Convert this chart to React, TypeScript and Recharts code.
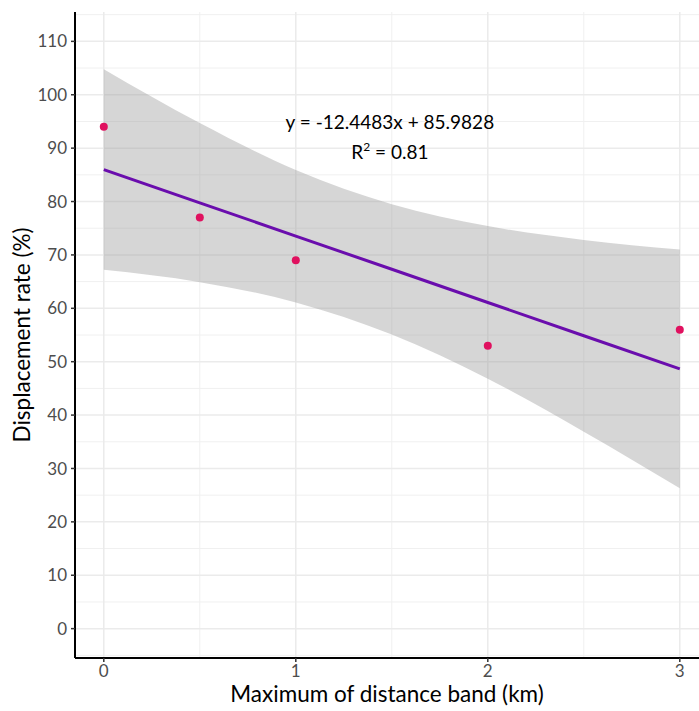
import React from "react";
import {
  Area,
  CartesianGrid,
  ComposedChart,
  Label,
  Line,
  ReferenceDot,
  Scatter,
  XAxis,
  YAxis,
} from "recharts";

// distance band maximum (km) and observed displacement rate (%)
const bandMax = [0, 0.5, 1, 2, 3];
const displacement = [94, 77, 69, 53, 56];

const fitX = [0, 0.5, 1, 1.5, 2, 2.5, 3];
const fitY = [85.98, 79.76, 73.53, 67.31, 61.09, 54.86, 48.64];
const ciLow = [67.2, 64.9, 61.1, 55.1, 46.8, 36.9, 26.3];
const ciHigh = [104.8, 94.7, 85.9, 79.5, 75.4, 72.8, 71.0];

const xTicks = [0, 1, 2, 3];
const yTicks = [0, 10, 20, 30, 40, 50, 60, 70, 80, 90, 100, 110];
const xMinor = [0.5, 1.5, 2.5];
const yMinor = [-5, 5, 15, 25, 35, 45, 55, 65, 75, 85, 95, 105, 115];

const ribbon = fitX.map((x, i) => ({ x, band: [ciLow[i], ciHigh[i]], fit: fitY[i] }));
const points = bandMax.map((x, i) => ({ x, y: displacement[i] }));

const FONT = "Lato, 'Open Sans', sans-serif";

const Equation = ({ viewBox }: any) => {
  const cx = viewBox.x + viewBox.width / 2;
  const cy = viewBox.y + viewBox.height / 2;
  return (
    <g fontFamily={FONT} fontSize={19} fill="#000" textAnchor="middle">
      <text x={cx} y={cy}>y = -12.4483x + 85.9828</text>
      <text x={cx} y={cy + 30}>
        R<tspan dy={-8} fontSize={12}>2</tspan>
        <tspan dy={8}> = 0.81</tspan>
      </text>
    </g>
  );
};

const App = () => {
  return (
    <div style={{ position: "absolute", left: 0, top: 0, background: "#fff" }}>
      <ComposedChart
        width={699}
        height={711}
        data={ribbon}
        margin={{ top: 12, right: 0, bottom: 0, left: 0 }}
      >
        <CartesianGrid
          stroke="#f0f0f0"
          strokeWidth={1}
          horizontalValues={yMinor}
          verticalValues={xMinor}
        />
        <CartesianGrid
          stroke="#ebebeb"
          strokeWidth={1.5}
          horizontalValues={yTicks}
          verticalValues={xTicks}
        />
        <XAxis
          type="number"
          dataKey="x"
          domain={[-0.15, 3.1]}
          ticks={xTicks}
          allowDataOverflow
          height={53}
          axisLine={{ stroke: "#000", strokeWidth: 2 }}
          tickLine={{ stroke: "#333", strokeWidth: 1.5 }}
          tickSize={4}
          tickMargin={3}
          tick={{ fill: "#4d4d4d", fontSize: 17, fontFamily: FONT }}
        >
          <Label
            value="Maximum of distance band (km)"
            position="insideBottom"
            offset={9}
            style={{ fill: "#000", fontSize: 22.5, fontFamily: FONT }}
          />
        </XAxis>
        <YAxis
          type="number"
          domain={[-5.5, 115.5]}
          ticks={yTicks}
          allowDataOverflow
          width={75}
          axisLine={{ stroke: "#000", strokeWidth: 2 }}
          tickLine={{ stroke: "#333", strokeWidth: 1.5 }}
          tickSize={4}
          tickMargin={4}
          tick={{ fill: "#4d4d4d", fontSize: 17, fontFamily: FONT }}
        >
          <Label
            value="Displacement rate (%)"
            angle={-90}
            position="insideLeft"
            offset={22}
            style={{ fill: "#000", fontSize: 22.5, fontFamily: FONT, textAnchor: "middle" }}
          />
        </YAxis>
        <Area
          dataKey="band"
          type="monotone"
          stroke="none"
          fill="#999999"
          fillOpacity={0.4}
          isAnimationActive={false}
        />
        <Line
          dataKey="fit"
          type="linear"
          stroke="#6a0dad"
          strokeWidth={3}
          dot={false}
          activeDot={false}
          isAnimationActive={false}
        />
        <Scatter
          data={points}
          dataKey="y"
          fill="#e0115f"
          shape={(p: any) => <circle cx={p.cx} cy={p.cy} r={4} fill="#e0115f" />}
          isAnimationActive={false}
        />
        <ReferenceDot x={1.49} y={93.5} r={1} fill="none" stroke="none" label={<Equation />} />
      </ComposedChart>
    </div>
  );
};

export default App;
